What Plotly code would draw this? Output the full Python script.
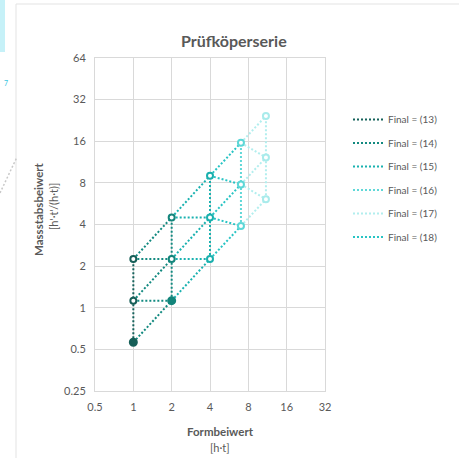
import plotly.graph_objects as go

# ---- data ----
x_cols = [1, 2, 4, 7, 11]                 # Formbeiwert columns
y_low = [0.5625, 1.125, 2.25, 3.9, 6.1]   # lowest point in each column
y_mid = [1.125, 2.25, 4.5, 7.8, 12.2]     # middle point
y_high = [2.25, 4.5, 9.0, 15.6, 24.4]     # highest point

series_names = ["Final = (13)", "Final = (14)", "Final = (15)",
                "Final = (16)", "Final = (17)", "Final = (18)"]
series_colors = ["#15625b", "#138a80", "#1ab2b0", "#60d8d8", "#b2eeee", "#28c4c4"]
col_marker_colors = ["#175f58", "#13857b", "#1ab0ae", "#5cd7d7", "#a9ebeb"]
filled_points = [(0, "low"), (1, "low")]

x_ticks = [0.5, 1, 2, 4, 8, 16, 32]
y_ticks = [0.25, 0.5, 1, 2, 4, 8, 16, 32, 64]

levels = {"low": y_low, "mid": y_mid, "high": y_high}


def vertical(c):
    return [x_cols[c]] * 3 + [None], [y_low[c], y_mid[c], y_high[c], None]


def links(c):
    """connections from column c to column c+1"""
    xs, ys = [], []
    for a, b in [("low", "low"), ("mid", "mid"), ("high", "high"),
                 ("mid", "low"), ("high", "mid")]:
        xs += [x_cols[c], x_cols[c + 1], None]
        ys += [levels[a][c], levels[b][c + 1], None]
    return xs, ys


def combine(*parts):
    xs, ys = [], []
    for px_, py_ in parts:
        xs += px_
        ys += py_
    return xs, ys


series_paths = [
    combine(vertical(0)),                 # 13
    combine(links(0), vertical(1)),       # 14
    combine(links(1), vertical(2)),       # 15
    combine(vertical(3)),                 # 16
    combine(links(3), vertical(4)),       # 17
    combine(links(2)),                    # 18
]

fig = go.Figure()
draw_order = [4, 3, 5, 2, 1, 0]
for i in draw_order:
    xs, ys = series_paths[i]
    fig.add_trace(go.Scatter(
        x=xs, y=ys, mode="lines", name=series_names[i],
        line=dict(color=series_colors[i], width=2, dash="2px,2px"),
        legendgroup=series_names[i], legendrank=i + 1,
        hoverinfo="skip", connectgaps=False,
    ))

for c in range(len(x_cols) - 1, -1, -1):
    for lvl in ["low", "mid", "high"]:
        filled = (c, lvl) in filled_points
        col = col_marker_colors[c]
        fig.add_trace(go.Scatter(
            x=[x_cols[c]], y=[levels[lvl][c]], mode="markers", showlegend=False,
            marker=dict(symbol="circle", size=7 if filled else 6,
                        color=col if filled else "white",
                        line=dict(color=col, width=2)),
            hoverinfo="skip",
        ))

txt = "#595959"
grid = "#d9d9d9"
FONT = "Lato"

fig.update_xaxes(type="log", range=[-0.30103, 1.50515], tickvals=x_ticks,
                 ticktext=[str(v) for v in x_ticks], showgrid=True, gridcolor=grid,
                 gridwidth=1, zeroline=False, showline=True, linecolor=grid,
                 mirror=True, ticks="", ticklabelstandoff=6,
                 tickfont=dict(size=11, color=txt, family=FONT))
fig.update_yaxes(type="log", range=[-0.60206, 1.80618], tickvals=y_ticks,
                 ticktext=[str(v) for v in y_ticks], showgrid=True, gridcolor=grid,
                 gridwidth=1, zeroline=False, showline=True, linecolor=grid,
                 mirror=True, ticks="", ticklabelstandoff=6,
                 tickfont=dict(size=11, color=txt, family=FONT))

L, R, T, B = 95, 325, 58, 391
W, H = 459, 458
pw, ph = R - L, B - T


def px(x):
    return (x - L) / pw


def py(y):
    return (B - y) / ph


def ann(text, x, y, size, angle=0, color=txt):
    return dict(text=text, x=px(x), y=py(y), xref="paper", yref="paper",
                xanchor="center", yanchor="middle", showarrow=False,
                textangle=angle, font=dict(size=size, color=color, family=FONT))


fig.update_layout(
    width=W, height=H,
    margin=dict(l=L, r=W - R, t=T, b=H - B, pad=0),
    paper_bgcolor="white", plot_bgcolor="white",
    font=dict(family=FONT, color=txt),
    showlegend=True,
    legend=dict(x=px(348), y=py(105), xanchor="left", yanchor="top",
                font=dict(size=10, color=txt, family=FONT),
                tracegroupgap=4.5, itemwidth=30, bgcolor="rgba(0,0,0,0)"),
    annotations=[
        ann("<b>Prüfköperserie</b>", 234, 40, 16),
        ann("<b>Formbeiwert</b>", 220, 431, 11.5),
        ann("[h·t]", 220, 447, 11),
        ann("<b>Massstabsbeiwert</b>", 38, 209, 11.5, -90),
        ann("[h'·t'/(h·t)]", 53, 207, 11, -90),
        ann("7", 6, 83, 7, 0, "#38c6e0"),
    ],
    shapes=[
        dict(type="line", xref="paper", yref="paper", x0=px(16), x1=px(16),
             y0=py(4), y1=py(458), line=dict(color="#e3e3e3", width=1)),
        dict(type="line", xref="paper", yref="paper", x0=px(16), x1=px(459),
             y0=py(4), y1=py(4), line=dict(color="#e3e3e3", width=1)),
        dict(type="rect", xref="paper", yref="paper", x0=px(0), x1=px(5),
             y0=py(0), y1=py(52), line=dict(width=0), fillcolor="#c6f1f8"),
        dict(type="line", xref="paper", yref="paper", x0=px(0), x1=px(17),
             y0=py(193), y1=py(157), line=dict(color="#c8c8c8", width=1.5, dash="2px,2px")),
    ],
)

fig.write_html("out.html", config={"displayModeBar": False},
               post_script="document.body.style.margin='0';document.body.style.overflow='hidden';")
